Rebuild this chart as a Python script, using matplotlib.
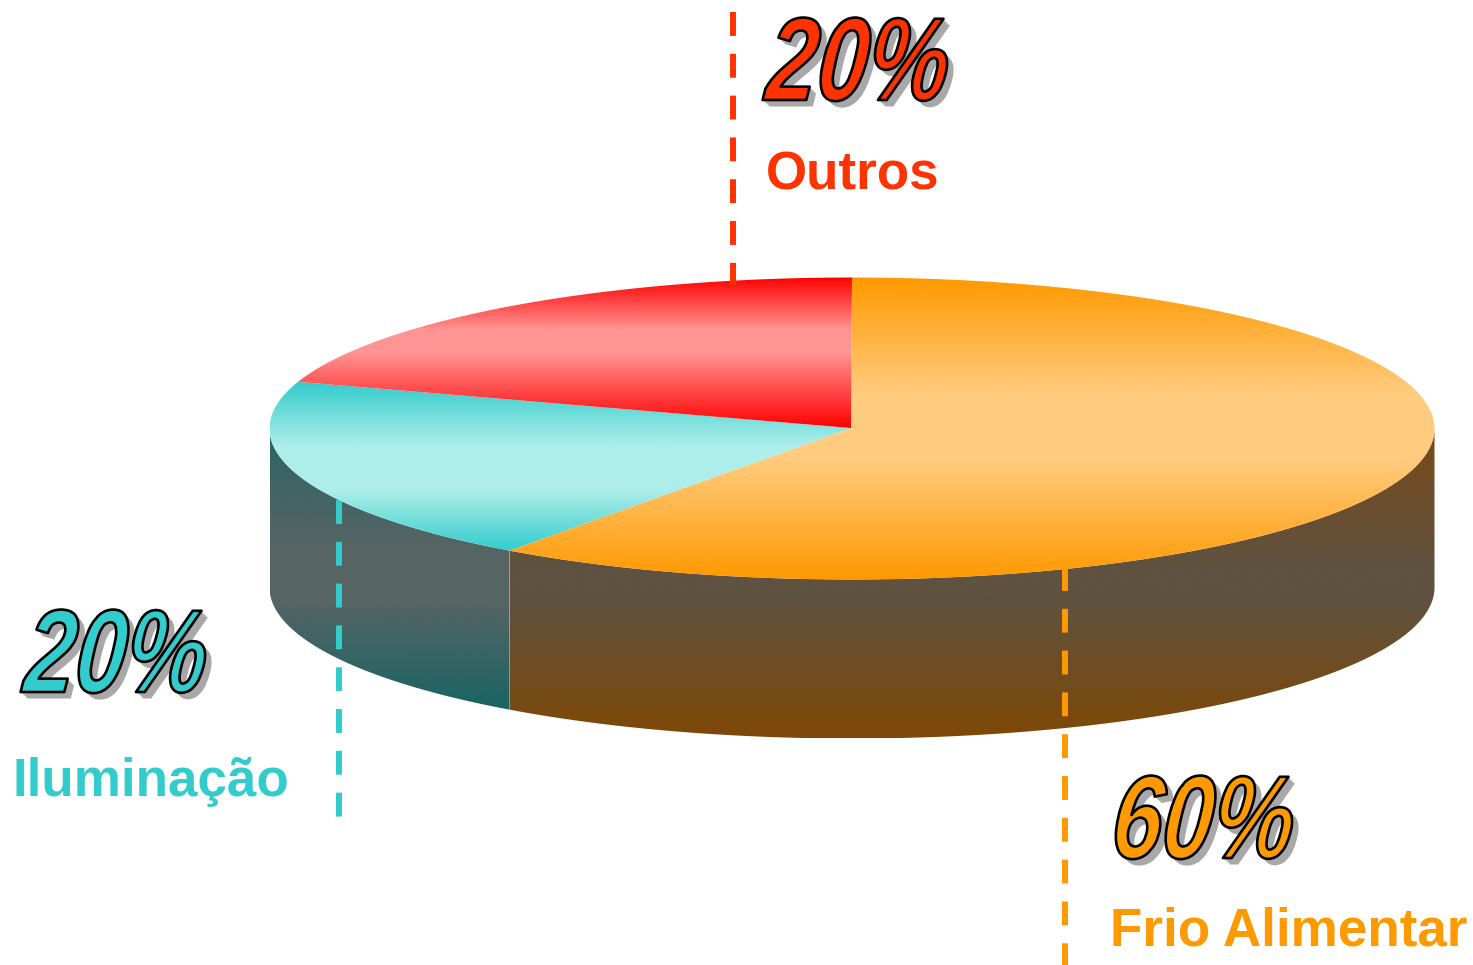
import numpy as np
import matplotlib
matplotlib.use("Agg")
import matplotlib.pyplot as plt
from matplotlib.path import Path
from matplotlib.patches import PathPatch
from matplotlib.patheffects import AbstractPathEffect
from matplotlib.transforms import Affine2D
from matplotlib.colors import to_rgb

categories = ["Frio Alimentar", "Iluminação", "Outros"]
shares = [60, 20, 20]
pct_labels = ["60%", "20%", "20%"]

main_colors = ["#ff9900", "#33cccc", "#ff3300"]
top_edge = ["#ff9900", "#33cccc", "#ff0000"]
top_mid = ["#ffcc80", "#aeeeea", "#ff9494"]
top_fracs = [(0.39, 0.60), (0.38, 0.64), (0.35, 0.50)]
side_stops = [["#7a4a18", "#5f5240", "#7f4806"], ["#2a6464", "#566464", "#196464"], None]
side_fracs = [(0.45, 0.55), (0.42, 0.62), (0.4, 0.6)]

W, H = 1473, 965
CX, CY, RX, RY, DEPTH = 852.0, 428.5, 582.5, 151.0, 159.0

fig = plt.figure(figsize=(W / 100, H / 100), dpi=100, facecolor="white")
ax = fig.add_axes([0, 0, 1, 1])
ax.set_axis_off()


def gradient(path, y0, y1, colors, fracs, z):
    n = 512
    t = np.linspace(0, 1, n)
    rgb = np.array([to_rgb(c) for c in colors])
    arr = np.stack([np.interp(t, fracs, rgb[:, i]) for i in range(3)], axis=1)[:, None, :]
    verts = path.vertices
    im = ax.imshow(arr, extent=(verts[:, 0].min(), verts[:, 0].max(), y1, y0),
                   aspect="auto", interpolation="bilinear", zorder=z)
    patch = PathPatch(path, transform=ax.transData, fc="none", ec="none")
    ax.add_patch(patch)
    im.set_clip_path(patch)


def ell(a, dy=0.0):
    return CX + RX * np.cos(a), CY + dy - RY * np.sin(a)


# Angles from the values, clockwise from twelve o'clock
edges = 90 - 360 * np.cumsum([0] + shares) / np.sum(shares)

# Side walls (only the part facing the viewer)
for i in range(len(shares)):
    if side_stops[i] is None:
        continue
    a0, a1 = np.radians(edges[i]), np.radians(edges[i + 1])
    lo, hi = max(min(a0, a1), np.radians(-180)), min(max(a0, a1), 0.0)
    th = np.linspace(lo, hi, 200)
    xt, yt = ell(th)
    xb, yb = ell(th[::-1], DEPTH)
    v = np.r_[np.c_[xt, yt], np.c_[xb, yb], [[xt[0], yt[0]]]]
    p = Path(v, closed=True)
    c = side_stops[i]
    gradient(p, CY, v[:, 1].max(), [c[0], c[1], c[1], c[2]],
             [0, side_fracs[i][0], side_fracs[i][1], 1], 1)

# Top wedges
for i in range(len(shares)):
    th = np.radians(np.linspace(edges[i], edges[i + 1], 300))
    xt, yt = ell(th)
    v = np.r_[[[851, 428]], np.c_[xt, yt], [[851, 428]]]
    p = Path(v, closed=True)
    gradient(p, v[:, 1].min(), v[:, 1].max(),
             [top_edge[i], top_mid[i], top_mid[i], top_edge[i]],
             [0, top_fracs[i][0], top_fracs[i][1], 1], 3)


# Dashed leader lines
def leader(x, y0, y1, color, z):
    ax.plot([x, x], [y0, y1], color=color, lw=4.3, zorder=z,
            linestyle=(0, (24 / 6, 18 / 6)), dash_capstyle="butt")


leader(1065, 567, 965, main_colors[0], 2)
leader(339, 500, 818, main_colors[1], 2)
leader(733, 12, 285, main_colors[2], 4)


class WordArt(AbstractPathEffect):
    """Condensed, slanted lettering with a stepped grey shadow and black outline."""

    def __init__(self, sx=0.77, skew=6, shadow=6.5, lw=1.9):
        super().__init__()
        self.pre = Affine2D().scale(sx, 1).skew_deg(skew, 0)
        self.shadow, self.lw = shadow, lw

    def draw_path(self, renderer, gc, tpath, affine, rgbFace):
        path = self.pre.transform_path(tpath)
        g = renderer.new_gc()
        g.copy_properties(gc)
        g.set_linewidth(0)
        g.set_alpha(1)
        for k in np.arange(self.shadow, 0, -1.0):
            renderer.draw_path(g, path, affine + Affine2D().translate(k, -k), (0.66, 0.66, 0.66))
        g.restore()
        g = renderer.new_gc()
        g.copy_properties(gc)
        g.set_foreground("black")
        g.set_linewidth(self.lw)
        g.set_joinstyle("round")
        renderer.draw_path(g, path, affine, rgbFace)
        g.restore()


pct_pos = [(1109, 858), (22, 692), (764, 100)]
name_pos = [(1110, 946), (13, 796), (766, 190)]
for i in range(len(shares)):
    ax.text(*pct_pos[i], pct_labels[i], fontsize=85, family="Liberation Sans",
            style="italic", weight="bold", color=main_colors[i], ha="left", va="baseline",
            zorder=6, path_effects=[WordArt()])
    ax.text(*name_pos[i], categories[i], fontsize=38.2, family="Liberation Sans",
            weight="bold", color=main_colors[i], ha="left", va="baseline", zorder=6)

ax.set_xlim(0, W)
ax.set_ylim(H, 0)
fig.savefig("out.png", dpi=100, facecolor="white")
